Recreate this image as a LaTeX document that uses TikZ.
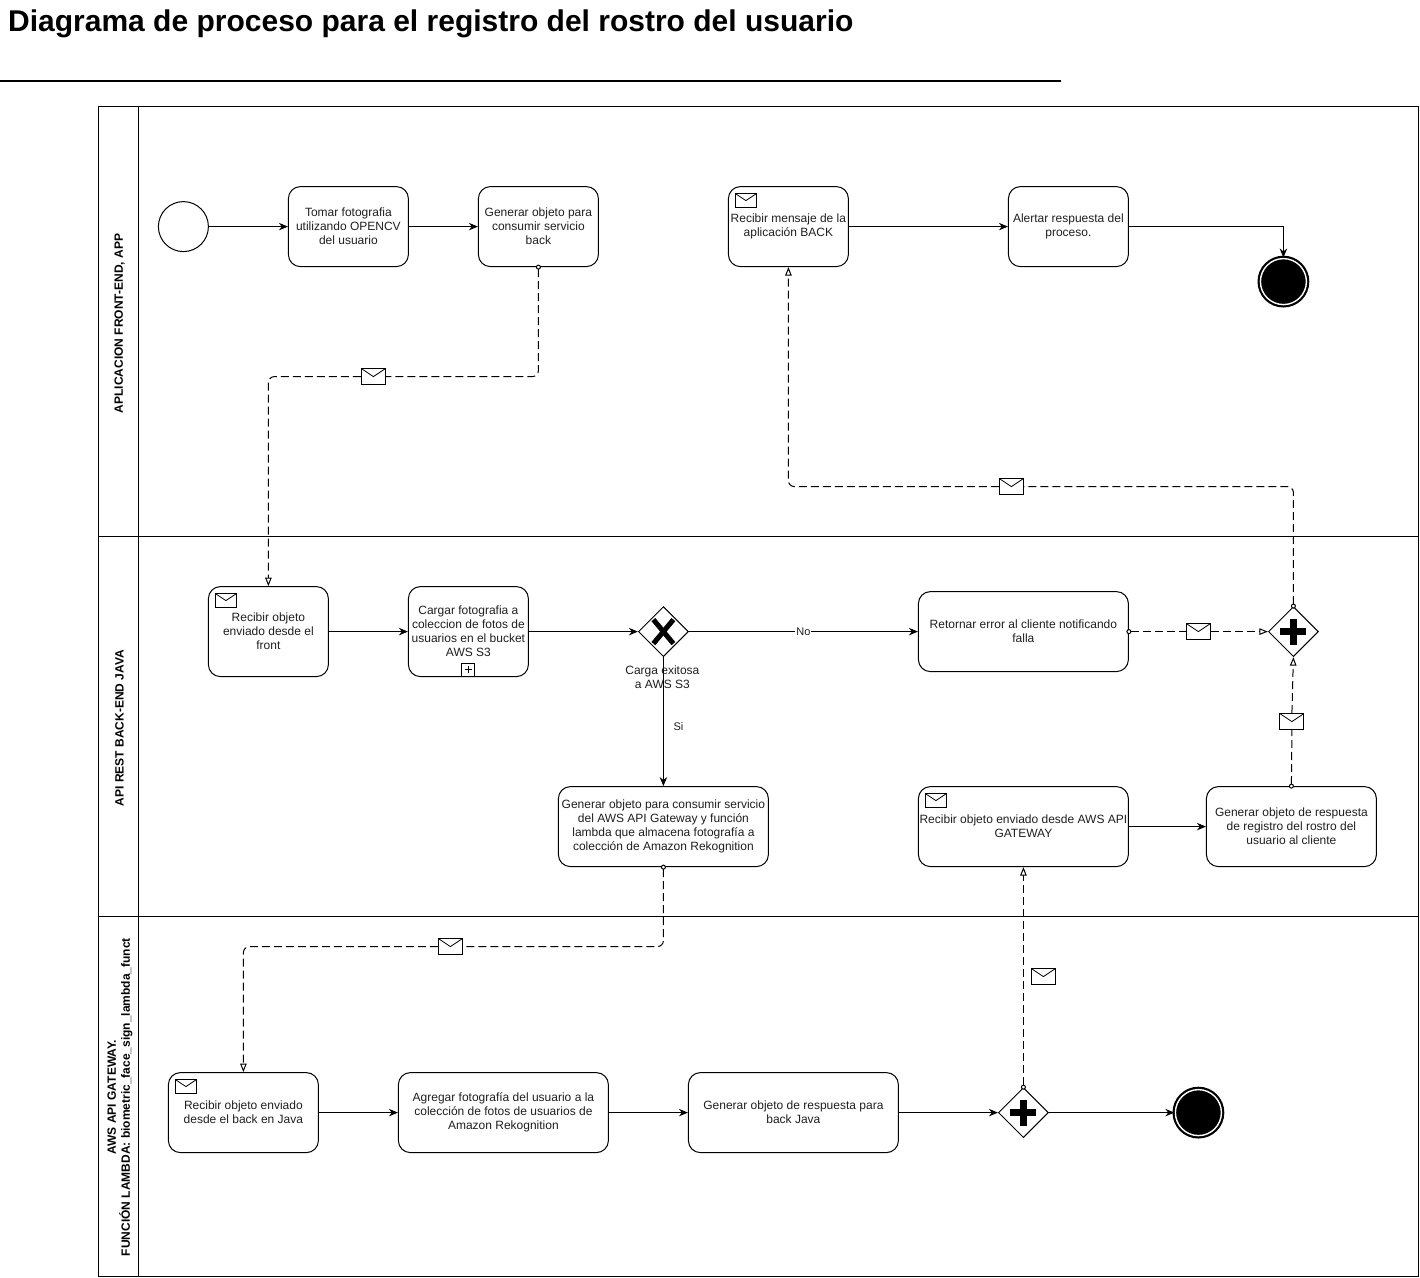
\documentclass[tikz,border=0pt]{standalone}
\usepackage{fontspec}
\setmainfont{Liberation Sans}
\usetikzlibrary{shapes.geometric,arrows.meta}
\tikzset{
  task/.style={rectangle,draw,rounded corners=12pt,line width=1pt,align=center,text=black!88,font=\fontsize{12}{14}\selectfont,inner sep=0pt},
  lane/.style={rectangle,draw,line width=1pt,minimum width=1320pt,inner sep=0pt},
  lanehead/.style={rectangle,draw,line width=1pt,minimum width=40pt,inner sep=0pt},
  lanetext/.style={rotate=90,align=center,font=\bfseries\fontsize{12}{14}\selectfont,inner sep=0pt},
  startev/.style={circle,draw,line width=1pt,minimum size=50pt,inner sep=0pt},
  endev/.style={circle,draw,fill=black,line width=2.2pt,double=white,double distance=1.4pt,minimum size=46pt,inner sep=0pt},
  gate/.style={diamond,draw,fill=white,line width=1pt,minimum width=50pt,minimum height=50pt,aspect=1,inner sep=0pt},
  gatex/.style={gate,path picture={
    \draw[line width=5pt] ([shift={(-10pt,-12pt)}]path picture bounding box.center) -- ([shift={(10pt,12pt)}]path picture bounding box.center);
    \draw[line width=5pt] ([shift={(-10pt,12pt)}]path picture bounding box.center) -- ([shift={(10pt,-12pt)}]path picture bounding box.center);}},
  gateplus/.style={gate,path picture={
    \draw[line width=6.5pt] ([shift={(-13pt,0pt)}]path picture bounding box.center) -- ([shift={(13pt,0pt)}]path picture bounding box.center);
    \draw[line width=6.5pt] ([shift={(0pt,-13pt)}]path picture bounding box.center) -- ([shift={(0pt,13pt)}]path picture bounding box.center);}},
  env/.style={rectangle,draw,fill=white,line width=.9pt,minimum width=24pt,minimum height=16pt,inner sep=0pt,path picture={
    \draw[line width=.8pt] (path picture bounding box.north west) -- (path picture bounding box.center) -- (path picture bounding box.north east);}},
  envsmall/.style={env,minimum width=21pt,minimum height=14pt},
  subbox/.style={rectangle,draw,fill=white,line width=.9pt,minimum size=13pt,inner sep=0pt,path picture={
    \draw[line width=.8pt] ([xshift=-3.5pt]path picture bounding box.center) -- ([xshift=3.5pt]path picture bounding box.center);
    \draw[line width=.8pt] ([yshift=-3.5pt]path picture bounding box.center) -- ([yshift=3.5pt]path picture bounding box.center);}},
  flowlabel/.style={font=\fontsize{11}{14}\selectfont,align=center,text=black!88,inner sep=1pt},
  seq/.style={->,line width=1pt},
  msg/.style={line width=1pt,dash pattern=on 8pt off 4pt,rounded corners=6pt},
  msgout/.style={msg,{Circle[open,fill=white,length=5pt,width=5pt,sep=-2.5pt]}-},
  msgin/.style={msg,-{Triangle[open,fill=white,length=8.5pt,width=6.5pt]}},
  msgboth/.style={msg,{Circle[open,fill=white,length=5pt,width=5pt,sep=-2.5pt]}-{Triangle[open,fill=white,length=8.5pt,width=6.5pt]}}
}
\begin{document}
\begin{tikzpicture}[x=1pt,y=-1pt,>={Stealth[length=9pt,width=7.5pt]}]
    \useasboundingbox (0,0) rectangle (1420,1277);

    \node[anchor=west,inner sep=0pt,font=\bfseries\fontsize{30}{34}\selectfont] (title) at (8,24) {Diagrama de proceso para el registro del rostro del usuario};
    \coordinate (ruleleft) at (0,81);
    \coordinate (ruleright) at (1061,81);
    \draw[line width=2pt] (ruleleft) -- (ruleright);

    \node[lane,minimum height=430pt] (lanefront) at (758,321) {};
    \node[lane,minimum height=380pt] (laneback) at (758,726) {};
    \node[lane,minimum height=360pt] (lanelambda) at (758,1096) {};
    \node[lanehead,minimum height=430pt] (headfront) at (118,321) {};
    \node[lanehead,minimum height=380pt] (headback) at (118,726) {};
    \node[lanehead,minimum height=360pt] (headlambda) at (118,1096) {};
    \node[lanetext] (textfront) at (119.5,323.5) {APLICACION FRONT-END, APP};
    \node[lanetext] (textback) at (119.5,728) {API REST BACK-END JAVA};
    \node[lanetext] (textlambda) at (120,1097) {AWS API GATEWAY.\\FUNCIÓN LAMBDA: biometric\_face\_sign\_lambda\_funct};

    \begin{scope}[shift={(.4,.6)}]
    \node[startev] (start) at (183,226) {};
    \node[task,minimum width=120pt,minimum height=80pt] (foto) at (348,226) {Tomar fotografia\\utilizando OPENCV\\del usuario};
    \node[task,minimum width=120pt,minimum height=80pt] (objeto) at (538,226) {Generar objeto para\\consumir servicio\\back};
    \node[task,minimum width=120pt,minimum height=80pt] (mensaje) at (788,226) {Recibir mensaje de la\\aplicación BACK};
    \node[task,minimum width=120pt,minimum height=80pt] (alerta) at (1068,226) {Alertar respuesta del\\proceso.};
    \node[endev] (fin) at (1283,281) {};

    \node[task,minimum width=120pt,minimum height=90pt] (recibe) at (268,631) {Recibir objeto\\enviado desde el\\front};
    \node[task,minimum width=120pt,minimum height=90pt] (carga) at (468,631) {Cargar fotografia a\\coleccion de fotos de\\usuarios en el bucket\\AWS S3};
    \node[gatex] (exito) at (663,631) {};
    \node[task,minimum width=210pt,minimum height=80pt] (falla) at (1023,631) {Retornar error al cliente notificando\\falla};
    \node[gateplus] (union) at (1293,631) {};
    \node[task,minimum width=210pt,minimum height=80pt] (servicio) at (663,826) {Generar objeto para consumir servicio\\del AWS API Gateway y función\\lambda que almacena fotografía a\\colección de Amazon Rekognition};
    \node[task,minimum width=210pt,minimum height=80pt] (gateway) at (1023,826) {Recibir objeto enviado desde AWS API\\GATEWAY};
    \node[task,minimum width=170pt,minimum height=80pt] (registro) at (1291,826) {Generar objeto de respuesta\\de registro del rostro del\\usuario al cliente};

    \node[task,minimum width=150pt,minimum height=80pt] (java) at (243,1112) {Recibir objeto enviado\\desde el back en Java};
    \node[task,minimum width=210pt,minimum height=80pt] (rekog) at (503,1112) {Agregar fotografía del usuario a la\\colección de fotos de usuarios de\\Amazon Rekognition};
    \node[task,minimum width=210pt,minimum height=80pt] (respuesta) at (793,1112) {Generar objeto de respuesta para\\back Java};
    \node[gateplus] (salida) at (1023,1112) {};
    \node[endev] (finlambda) at (1198,1112) {};

    \node[envsmall] (iconmensaje) at (745.5,200) {};
    \node[envsmall] (iconrecibe) at (225.5,600) {};
    \node[envsmall] (icongateway) at (935.5,800) {};
    \node[envsmall] (iconjava) at (185.5,1086) {};
    \node[subbox] (marca) at (468,669) {};

    \node[env] (envfront) at (373,376) {};
    \node[env] (envback) at (1011,486) {};
    \node[env] (envfalla) at (1198,631) {};
    \node[env] (envregistro) at (1291.5,721) {};
    \node[env] (envservicio) at (450,946) {};
    \node[env] (envsalida) at (1043,976) {};

    \draw[seq] (start) -- (foto);
    \draw[seq] (foto) -- (objeto);
    \draw[seq] (mensaje) -- (alerta);
    \draw[seq] (alerta.east) -| (fin.north);
    \draw[seq] (recibe) -- (carga);
    \draw[seq] (carga) -- (exito);
    \draw[seq] (exito) -- (falla);
    \draw[seq] (exito) -- (servicio);
    \draw[seq] (gateway.east) -- (registro.west |- gateway.east);
    \draw[seq] (java) -- (rekog);
    \draw[seq] (rekog) -- (respuesta);
    \draw[seq] (respuesta) -- (salida);
    \draw[seq] (salida) -- (finlambda);

    \draw[msgout] (objeto.south) |- (envfront.east);
    \draw[msgin] (envfront.west) -| (recibe.north);
    \draw[msgout] (union.north) |- (envback.east);
    \draw[msgin] (envback.west) -| (mensaje.south);
    \draw[msgout] (falla.east) -- (envfalla.west);
    \draw[msgin] (envfalla.east) -- (union.west);
    \draw[msgout] (registro.north) -- (envregistro.south);
    \draw[msgin] (envregistro.north) -- (union.south);
    \draw[msgout] (servicio.south) |- (envservicio.east);
    \draw[msgin] (envservicio.west) -| (java.north);
    \draw[msgboth] (salida.north) -- (gateway.south);

    \node[flowlabel,font=\fontsize{12}{14}\selectfont] (etiquetacarga) at (662,677) {Carga exitosa\\a AWS S3};
    \node[flowlabel,fill=white] (etiquetano) at (803,631) {No};
    \node[flowlabel] (etiquetasi) at (678,726) {Si};
    \end{scope}
\end{tikzpicture}
\end{document}
